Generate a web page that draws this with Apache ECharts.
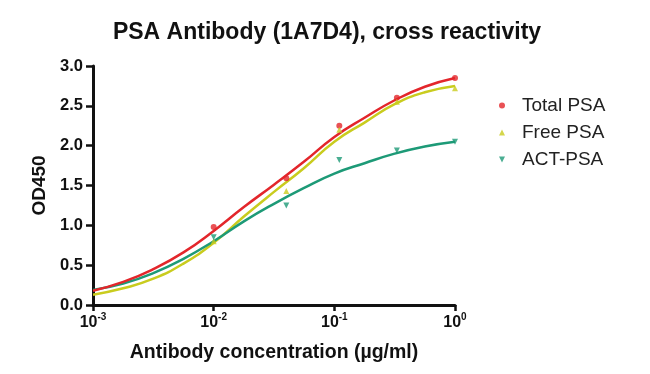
<!DOCTYPE html>
<html>
<head>
<meta charset="utf-8">
<script src="https://cdn.jsdelivr.net/npm/echarts@6/dist/echarts.min.js"></script>
<style>html,body{margin:0;padding:0;background:#fff}#c{width:650px;height:374px}</style>
</head>
<body>
<div id="c"></div>
<script>
// Measured points
var conc = [0.01, 0.04, 0.11, 0.33, 1.0];
var totalPSA = [0.98, 1.59, 2.25, 2.60, 2.85];
var freePSA = [0.80, 1.43, 2.20, 2.55, 2.72];
var actPSA = [0.85, 1.25, 1.82, 1.94, 2.05];
// Fitted curves, every quarter decade from 1e-3 to 1
var curveX = [0.001, 0.00178, 0.00316, 0.00562, 0.01, 0.0178, 0.0316, 0.0562, 0.1, 0.178, 0.316, 0.562, 1.0];
var totalCurve = [0.18, 0.29, 0.45, 0.66, 0.93, 1.23, 1.51, 1.80, 2.11, 2.35, 2.57, 2.74, 2.85];
var freeCurve = [0.13, 0.21, 0.33, 0.52, 0.78, 1.11, 1.42, 1.72, 2.05, 2.29, 2.52, 2.67, 2.75];
var actCurve = [0.19, 0.27, 0.40, 0.58, 0.80, 1.05, 1.27, 1.47, 1.65, 1.78, 1.90, 1.99, 2.05];
var xTickExp = ['-3', '-2', '-1', '0'];

var colors = {total: '#e3262b', free: '#c9cc1e', act: '#1d9a77'};
function pairs(xs, ys) { return xs.map(function (x, i) { return [x, ys[i]]; }); }

var chart = echarts.init(document.getElementById('c'));
var font = 'Liberation Sans, Arial, sans-serif';
chart.setOption({
  animation: false,
  title: {
    text: 'PSA Antibody (1A7D4), cross reactivity',
    left: 322, top: 16, textAlign: 'center',
    textStyle: {fontFamily: font, fontSize: 23, fontWeight: 'bold', color: '#111'}
  },
  legend: {
    orient: 'vertical', left: 494, top: 91, itemGap: 8, itemWidth: 6, itemHeight: 6,
    textStyle: {fontFamily: font, fontSize: 19, color: '#222', padding: [0, 0, 0, 12]},
    data: [
      {name: 'Total PSA', icon: 'circle'},
      {name: 'Free PSA', icon: 'triangle'},
      {name: 'ACT-PSA', icon: 'path://M0,0 L10,0 L5,10 Z'}
    ]
  },
  grid: {left: 93, right: 195, top: 66, bottom: 69},
  xAxis: {
    type: 'log', min: 0.001, max: 1, logBase: 10,
    axisLine: {lineStyle: {color: '#111', width: 3}},
    axisTick: {show: true, length: 6, lineStyle: {width: 2.5, color: '#111'}},
    minorTick: {show: false},
    splitLine: {show: false},
    axisLabel: {
      margin: 7,
      formatter: function (v) {
        var e = Math.round(Math.log10(v));
        return '{b|10}{s|' + xTickExp[e + 3] + '}';
      },
      rich: {
        b: {fontFamily: font, fontSize: 16, fontWeight: 'bold', color: '#111', verticalAlign: 'bottom'},
        s: {fontFamily: font, fontSize: 10, fontWeight: 'bold', color: '#111', verticalAlign: 'top', padding: [0, 0, 9, 0]}
      }
    },
    name: 'Antibody concentration (µg/ml)', nameLocation: 'middle', nameGap: 38,
    nameTextStyle: {fontFamily: font, fontSize: 19.5, fontWeight: 'bold', color: '#111'}
  },
  yAxis: {
    type: 'value', min: 0, max: 3, interval: 0.5,
    axisLine: {show: true, lineStyle: {color: '#111', width: 3}},
    axisTick: {show: true, length: 7, lineStyle: {width: 2.5, color: '#111'}},
    splitLine: {show: false},
    axisLabel: {
      margin: 10,
      formatter: function (v) { return v.toFixed(1); },
      fontFamily: font, fontSize: 16.5, fontWeight: 'bold', color: '#111'
    },
    name: 'OD450', nameLocation: 'middle', nameGap: 42, nameRotate: 90,
    nameTextStyle: {fontFamily: font, fontSize: 19, fontWeight: 'bold', color: '#111'}
  },
  series: [
    {name: 'Total fit', type: 'line', smooth: 0.5, showSymbol: false, data: pairs(curveX, totalCurve),
     lineStyle: {color: colors.total, width: 2.5}, z: 3},
    {name: 'Free fit', type: 'line', smooth: 0.5, showSymbol: false, data: pairs(curveX, freeCurve),
     lineStyle: {color: colors.free, width: 2.5}, z: 2},
    {name: 'ACT fit', type: 'line', smooth: 0.5, showSymbol: false, data: pairs(curveX, actCurve),
     lineStyle: {color: colors.act, width: 2.5}, z: 2},
    {name: 'Total PSA', type: 'scatter', symbol: 'circle', symbolSize: 6, data: pairs(conc, totalPSA),
     itemStyle: {color: colors.total}, z: 4},
    {name: 'Free PSA', type: 'scatter', symbol: 'triangle', symbolSize: 6, data: pairs(conc, freePSA),
     itemStyle: {color: colors.free}, z: 4},
    {name: 'ACT-PSA', type: 'scatter', symbol: 'triangle', symbolRotate: 180, symbolSize: 6, data: pairs(conc, actPSA),
     itemStyle: {color: colors.act}, z: 4}
  ]
});
</script>
</body>
</html>
